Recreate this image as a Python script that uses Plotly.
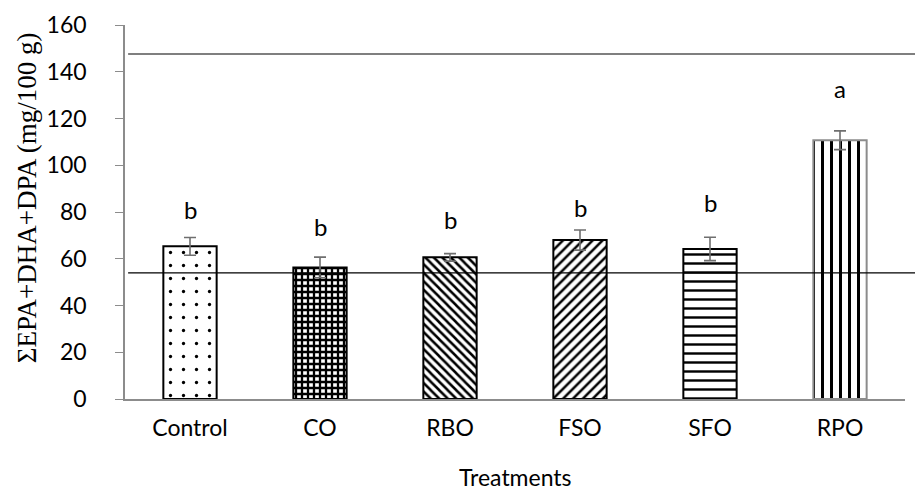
import plotly.graph_objects as go

categories = ["Control", "CO", "RBO", "FSO", "SFO", "RPO"]
values = [65.3, 56.3, 60.6, 68.0, 64.2, 110.7]
errors = [3.8, 4.4, 1.6, 4.3, 5.0, 4.0]
letters = ["b", "b", "b", "b", "b", "a"]
letter_y = [81, 74, 77, 82, 84, 133]
ref_lines = [147.6, 54.0]

shapes_p = [".", "+", "\\", "/", "-", "|"]
sizes_p = [13, 6, 6, 7, 9, 9]
solid_p = [0.05, 0.62, 0.42, 0.36, 0.27, 0.33]
outline = ["black", "black", "black", "black", "black", "#8c8c8c"]

SANS = "Lato, Carlito, sans-serif"

fig = go.Figure()
fig.add_trace(go.Bar(
    x=categories, y=values, width=0.41,
    marker=dict(
        color="white",
        line=dict(color=outline, width=2),
        pattern=dict(shape=shapes_p, size=sizes_p, solidity=solid_p,
                     fgcolor="black", bgcolor="white", fgopacity=1, fillmode="replace"),
    ),
    error_y=dict(type="data", array=errors, color="#6f6f6f", thickness=1.6, width=6),
))

for c, l, ly in zip(categories, letters, letter_y):
    fig.add_annotation(x=c, y=ly, text=l, showarrow=False,
                       font=dict(family=SANS, size=24, color="black"))

for v in ref_lines:
    fig.add_shape(type="line", xref="paper", yref="y", x0=0.004, x1=1.03, y0=v, y1=v,
                  line=dict(color="black", width=1.2))

fig.add_annotation(xref="paper", yref="paper", x=-0.1256, y=0.537,
                   xanchor="center", yanchor="middle",
                   text="ΣEPA+DHA+DPA (mg/100 g)", textangle=-90, showarrow=False,
                   font=dict(family="Liberation Serif, Times New Roman, serif", size=27, color="black"))

fig.add_annotation(xref="paper", yref="paper", x=0.5, y=-0.2086,
                   xanchor="center", yanchor="middle",
                   text="Treatments", showarrow=False,
                   font=dict(family=SANS, size=23, color="black"))

fig.update_layout(
    width=915, height=482,
    margin=dict(l=117, r=18, t=17, b=91),
    paper_bgcolor="white", plot_bgcolor="white",
    showlegend=False,
    font=dict(family=SANS, size=24, color="black"),
    xaxis=dict(showline=True, linecolor="#8c8c8c", linewidth=1.5, ticks="",
               tickfont=dict(size=23), ticklabelstandoff=8, automargin=False),
    yaxis=dict(range=[0, 160], dtick=20, showline=True, linecolor="#8c8c8c", linewidth=1.5,
               ticks="outside", ticklen=8, tickcolor="#8c8c8c", showgrid=False, zeroline=False,
               tickfont=dict(size=23), ticklabelstandoff=24, automargin=False),
)

fig.write_html("out.html")
